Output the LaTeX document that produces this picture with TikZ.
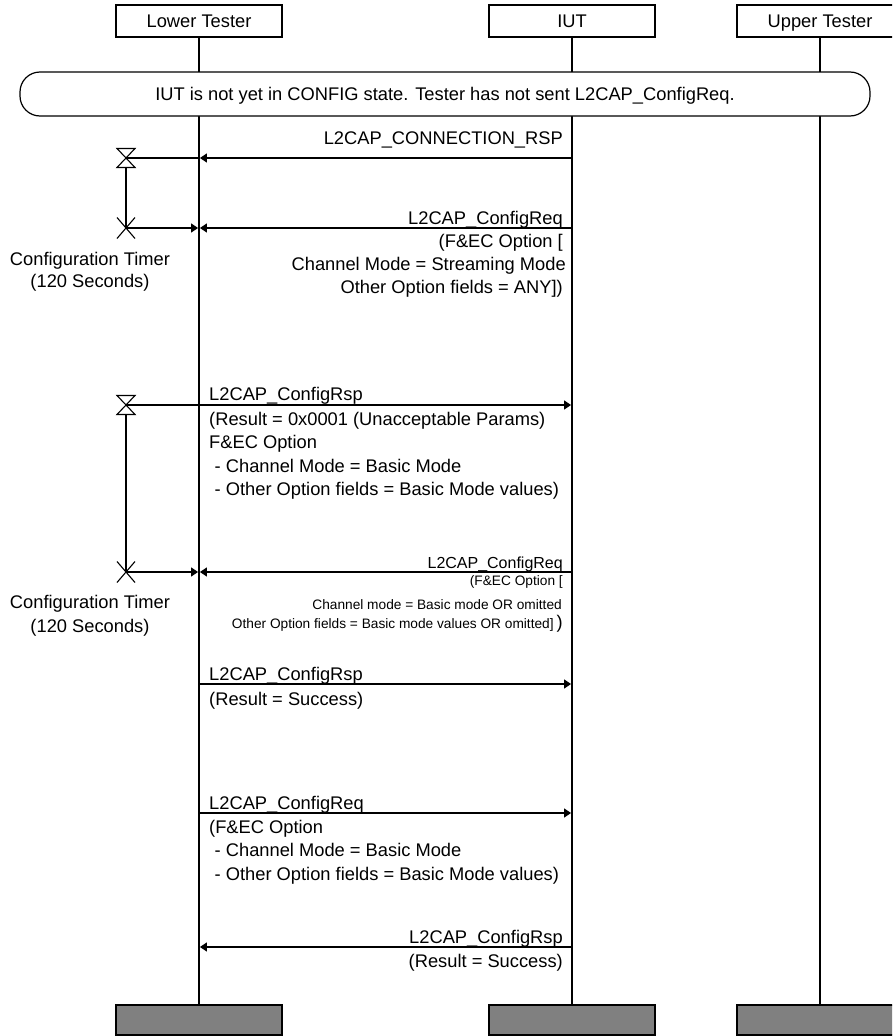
\documentclass[tikz,border=0pt]{standalone}
\usepackage{fontspec}
\setmainfont{Liberation Sans}
\usetikzlibrary{arrows.meta}
\definecolor{boxgray}{HTML}{808080}
\newcommand\nfnt{\fontsize{18.3}{22}\selectfont}
\newcommand\sfnt{\fontsize{13.7}{16}\selectfont}
\newcommand\mfnt{\fontsize{16}{19}\selectfont}
\begin{document}
\begin{tikzpicture}[x=1pt,y=-1pt,
  hdr/.style={draw,line width=1.2pt,minimum width=166pt,minimum height=32pt,inner sep=0pt,font=\nfnt,text height=13.2pt,text depth=0pt},
  foot/.style={draw,fill=boxgray,line width=1.2pt,minimum width=166pt,minimum height=30pt,inner sep=0pt},
  banner/.style={draw,fill=white,line width=1.2pt,rounded corners=20pt,minimum width=850pt,minimum height=44pt,inner sep=0pt,font=\nfnt,text height=13.2pt,text depth=0pt},
  life/.style={line width=1.8pt},
  msg/.style={line width=1.2pt,-{Triangle[length=7pt,width=9pt]},shorten >=0.9pt},
  tline/.style={line width=1.2pt},
  lbl/.style={inner sep=0pt,font=\nfnt},
  lblr/.style={lbl,anchor=base east},
  lbll/.style={lbl,anchor=base west},
  small/.style={inner sep=0pt,font=\sfnt,anchor=base east},
  tmr/.style={inner sep=0pt,font=\nfnt,anchor=base},
  hourglass/.pic={\draw[line width=1.1pt] (-9,-9.5) -- (9,-9.5) -- (-9,9.5) -- (9,9.5) -- cycle;},
  timerx/.pic={\draw[line width=1.1pt] (-9,-10.5) -- (9,10.5) (9,-10.5) -- (-9,10.5);}
]
\useasboundingbox (0,0) rectangle (892,1036);
\clip (0,0) rectangle (892,1036);

% headers and footers
\node[hdr] (lt) at (199,21) {Lower Tester};
\node[hdr] (iut) at (572,21) {IUT};
\node[hdr] (ut) at (820,21) {Upper Tester};
\node[foot] (ltf) at (199,1020) {};
\node[foot] (iutf) at (572,1020) {};
\node[foot] (utf) at (820,1020) {};

% lifelines
\draw[life] (lt.south) -- (ltf.north);
\draw[life] (iut.south) -- (iutf.north);
\draw[life] (ut.south) -- (utf.north);

% banner
\node[banner] (ban) at (445,94) {IUT is not yet in CONFIG state. Tester has not sent L2CAP\_ConfigReq.};

% message anchor points
\coordinate (L1) at (199,158); \coordinate (I1) at (572,158);
\coordinate (L2) at (199,228); \coordinate (I2) at (572,228);
\coordinate (L3) at (199,405); \coordinate (I3) at (572,405);
\coordinate (L4) at (199,572); \coordinate (I4) at (572,572);
\coordinate (L5) at (199,684); \coordinate (I5) at (572,684);
\coordinate (L6) at (199,813); \coordinate (I6) at (572,813);
\coordinate (L7) at (199,947); \coordinate (I7) at (572,947);

% timers
\coordinate (T1s) at (126,158); \coordinate (T1b) at (126,167.5); \coordinate (T1e) at (126,228);
\coordinate (T2s) at (126,405); \coordinate (T2b) at (126,414.5); \coordinate (T2e) at (126,572);

% message 1
\draw[msg] (I1) -- (L1);
\node[lblr] at (563,144.5) {L2CAP\_CONNECTION\_RSP};

% message 2
\draw[msg] (I2) -- (L2);
\node[lblr] at (563,224) {L2CAP\_ConfigReq};
\node[lblr] at (563,247) {(F\&EC Option [};
\node[lblr] at (566,270) {Channel Mode = Streaming Mode};
\node[lblr] at (563,293) {Other Option fields = ANY])};

% timer 1
\pic at (T1s) {hourglass};
\pic at (T1e) {timerx};
\draw[tline] (T1s) -- (L1);
\draw[tline] (T1b) -- (T1e);
\draw[msg] (T1e) -- (L2);
\node[tmr] at (90,265) {Configuration Timer};
\node[tmr] at (90,287) {(120 Seconds)};

% message 3
\draw[msg] (L3) -- (I3);
\node[lbll] at (209,400) {L2CAP\_ConfigRsp};
\node[lbll] at (209,425) {(Result = 0x0001 (Unacceptable Params)};
\node[lbll] at (209,448) {F\&EC Option};
\node[lbll] at (214.5,472) {- Channel Mode = Basic Mode};
\node[lbll] at (214.5,495) {- Other Option fields = Basic Mode values)};

% timer 2
\pic at (T2s) {hourglass};
\pic at (T2e) {timerx};
\draw[tline] (T2s) -- (L3);
\draw[tline] (T2b) -- (T2e);
\draw[msg] (T2e) -- (L4);
\node[tmr] at (90,608) {Configuration Timer};
\node[tmr] at (90,632) {(120 Seconds)};

% message 4
\draw[msg] (I4) -- (L4);
\node[lblr,font=\mfnt] at (563,568) {L2CAP\_ConfigReq};
\node[small] at (563,585) {(F\&EC Option [};
\node[small] at (562,609) {Channel mode = Basic mode OR omitted};
\node[small] at (563,628) {Other Option fields = Basic mode values OR omitted]{\nfnt\,)}};

% message 5
\draw[msg] (L5) -- (I5);
\node[lbll] at (209,680.5) {L2CAP\_ConfigRsp};
\node[lbll] at (209,705) {(Result = Success)};

% message 6
\draw[msg] (L6) -- (I6);
\node[lbll] at (209,809.5) {L2CAP\_ConfigReq};
\node[lbll] at (209,833) {(F\&EC Option};
\node[lbll] at (214.5,856.5) {- Channel Mode = Basic Mode};
\node[lbll] at (214.5,880) {- Other Option fields = Basic Mode values)};

% message 7
\draw[msg] (I7) -- (L7);
\node[lblr] at (563,943) {L2CAP\_ConfigRsp};
\node[lblr] at (563,967) {(Result = Success)};
\end{tikzpicture}
\end{document}
